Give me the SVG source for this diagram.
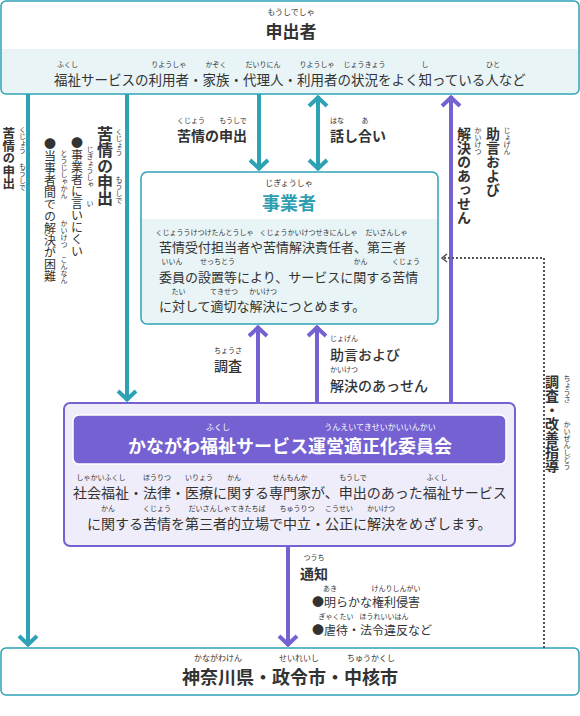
<svg xmlns="http://www.w3.org/2000/svg" width="580" height="716" viewBox="0 0 580 716">
<defs>
<style>
text{font-family:"Noto Sans CJK JP","Noto Sans CJK SC",sans-serif;fill:#333;}
.r{font-size:7px;text-anchor:middle;}
.rt{font-size:8px;text-anchor:middle;}
.b{font-weight:bold;}
.m{text-anchor:middle;}
.v{writing-mode:vertical-rl;}
.tl{stroke:#2ea2b5;stroke-width:4;fill:none;}
.pl{stroke:#7561d1;stroke-width:4;fill:none;}
</style>
<marker id="arT" markerUnits="userSpaceOnUse" markerWidth="24" markerHeight="24" viewBox="-12 -12 24 24" refX="0" refY="0" orient="auto-start-reverse" overflow="visible">
<path d="M-10,-9 L-1.5,0 L-10,9" fill="none" stroke="#2ea2b5" stroke-width="4"/>
</marker>
<marker id="arP" markerUnits="userSpaceOnUse" markerWidth="24" markerHeight="24" viewBox="-12 -12 24 24" refX="0" refY="0" orient="auto-start-reverse" overflow="visible">
<path d="M-10,-9 L-1.5,0 L-10,9" fill="none" stroke="#7561d1" stroke-width="4"/>
</marker>
<marker id="arD" markerUnits="userSpaceOnUse" markerWidth="12" markerHeight="12" viewBox="-6 -6 12 12" refX="0" refY="0" orient="auto" overflow="visible">
<path d="M-5,-4 L0,0 L-5,4" fill="none" stroke="#555" stroke-width="1.6"/>
</marker>
</defs>
<rect width="580" height="716" fill="#fff"/>

<g id="moushidesha">
<rect x="1" y="1" width="578" height="93" rx="5" fill="#fff"/>
<path d="M2,49 H578 V89 A4,4 0 0 1 574,93 H6 A4,4 0 0 1 2,89 Z" fill="#e8f4f6"/>
<rect x="1" y="1" width="578" height="93" rx="5" fill="none" stroke="#2ea2b5" stroke-width="1.5"/>
<text class="rt" x="291" y="15">もうしでしゃ</text>
<text class="m b" x="291" y="37.5" font-size="17">申出者</text>
<text x="54" y="84.5" font-size="13.5">福祉サービスの利用者・家族・代理人・利用者の状況をよく知っている人など</text>
<text class="r" x="67.5" y="66.5">ふくし</text>
<text class="r" x="168.8" y="66.5">りようしゃ</text>
<text class="r" x="216" y="66.5">かぞく</text>
<text class="r" x="263" y="66.5">だいりにん</text>
<text class="r" x="317" y="66.5">りようしゃ</text>
<text class="r" x="364.5" y="66.5">じょうきょう</text>
<text class="r" x="425" y="66.5">し</text>
<text class="r" x="493" y="66.5">ひと</text>
</g>

<g id="jigyousha">
<rect x="141" y="172" width="297" height="152" rx="6" fill="#fff"/>
<path d="M142,219 H437 V318 A5,5 0 0 1 432,323 H147 A5,5 0 0 1 142,318 Z" fill="#e8f4f6"/>
<rect x="141" y="172" width="297" height="152" rx="6" fill="none" stroke="#2ea2b5" stroke-width="1.5"/>
<text class="rt" x="289" y="186">じぎょうしゃ</text>
<text class="m b" x="289" y="209.5" font-size="18" style="fill:#2e9fb3">事業者</text>
<text x="159" y="252" font-size="13">苦情受付担当者や苦情解決責任者、第三者</text>
<text class="r" x="204.5" y="234.5">くじょううけつけたんとうしゃ</text>
<text class="r" x="308.5" y="234.5">くじょうかいけつせきにんしゃ</text>
<text class="r" x="386.5" y="234.5">だいさんしゃ</text>
<text x="159" y="281.5" font-size="13">委員の設置等により、サービスに関する苦情</text>
<text class="r" x="172" y="264">いいん</text>
<text class="r" x="217.5" y="264">せっちとう</text>
<text class="r" x="360.5" y="264">かん</text>
<text class="r" x="406" y="264">くじょう</text>
<text x="159" y="311" font-size="13">に対して適切な解決につとめます。</text>
<text class="r" x="178.5" y="293.5">たい</text>
<text class="r" x="224" y="293.5">てきせつ</text>
<text class="r" x="263" y="293.5">かいけつ</text>
</g>

<g id="iinkai">
<rect x="64" y="403" width="451" height="143" rx="6" fill="#efedf9" stroke="#7561d1" stroke-width="2"/>
<rect x="73" y="415" width="433" height="49" rx="6" fill="#7561d1" stroke="#fff" stroke-width="1.5"/>
<text class="rt" x="218" y="429.5" style="fill:#fff">ふくし</text>
<text class="rt" x="380" y="429.5" style="fill:#fff">うんえいてきせいかいいんかい</text>
<text class="m b" x="290" y="453" font-size="18" style="fill:#fff">かながわ福祉サービス運営適正化委員会</text>
<text x="73" y="498" font-size="14">社会福祉・法律・医療に関する専門家が、申出のあった福祉サービス</text>
<text class="r" x="101" y="479.5">しゃかいふくし</text>
<text class="r" x="157" y="479.5">ほうりつ</text>
<text class="r" x="199" y="479.5">いりょう</text>
<text class="r" x="234" y="479.5">かん</text>
<text class="r" x="290" y="479.5">せんもんか</text>
<text class="r" x="353" y="479.5">もうしで</text>
<text class="r" x="437" y="479.5">ふくし</text>
<text x="87" y="529" font-size="14">に関する苦情を第三者的立場で中立・公正に解決をめざします。</text>
<text class="r" x="108" y="510.5">かん</text>
<text class="r" x="157" y="510.5">くじょう</text>
<text class="r" x="227" y="510.5">だいさんしゃてきたちば</text>
<text class="r" x="297" y="510.5">ちゅうりつ</text>
<text class="r" x="339" y="510.5">こうせい</text>
<text class="r" x="381" y="510.5">かいけつ</text>
</g>

<g id="gyousei">
<rect x="1" y="648" width="578" height="47" rx="5" fill="#fff" stroke="#2ea2b5" stroke-width="1.5"/>
<text x="182" y="684" font-size="18" class="b">神奈川県・政令市・中核市</text>
<text class="rt" x="218" y="660.5">かながわけん</text>
<text class="rt" x="299" y="660.5">せいれいし</text>
<text class="rt" x="371" y="660.5">ちゅうかくし</text>
</g>

<g id="connectors">
<path class="tl" d="M28,94 V646" marker-end="url(#arT)"/>
<path class="tl" d="M127,94 V401" marker-end="url(#arT)"/>
<path class="tl" d="M259,94 V170" marker-end="url(#arT)"/>
<path class="tl" d="M318,96 V170" marker-start="url(#arT)" marker-end="url(#arT)"/>
<path class="pl" d="M451,403 V96" marker-end="url(#arP)"/>
<path class="pl" d="M258,403 V326" marker-end="url(#arP)"/>
<path class="pl" d="M317,403 V326" marker-end="url(#arP)"/>
<path class="pl" d="M288,546 V646" marker-end="url(#arP)"/>
<path d="M544,648 V258 H442" fill="none" stroke="#555" stroke-width="2" stroke-dasharray="2 2" marker-end="url(#arD)"/>

<text class="b" x="177" y="141" font-size="14">苦情の申出</text>
<text class="r" x="191" y="122.5">くじょう</text>
<text class="r" x="233" y="122.5">もうしで</text>
<text class="b" x="330" y="141" font-size="14">話し合い</text>
<text class="r" x="337" y="122.5">はな</text>
<text class="r" x="365" y="122.5">あ</text>

<text x="214" y="371" font-size="14" font-weight="500">調査</text>
<text class="r" x="228" y="352.5">ちょうさ</text>
<text x="330" y="359.5" font-size="14" font-weight="500">助言および</text>
<text class="r" x="344" y="341">じょげん</text>
<text x="330" y="390.5" font-size="14" font-weight="500">解決のあっせん</text>
<text class="r" x="344" y="372">かいけつ</text>

<text class="b" x="300" y="578.5" font-size="14">通知</text>
<text class="r" x="314" y="560">つうち</text>
<text x="312" y="607" font-size="12">●明らかな権利侵害</text>
<text class="r" x="330" y="591">あき</text>
<text class="r" x="396" y="591">けんりしんがい</text>
<text x="312" y="635" font-size="12">●虐待・法令違反など</text>
<text class="r" x="336" y="619">ぎゃくたい</text>
<text class="r" x="384" y="619">ほうれいいはん</text>

<text class="v b" x="8.8" y="127" font-size="12.5">苦情の申出</text>
<text class="v r" x="22.6" y="140">くじょう</text>
<text class="v r" x="22.6" y="177">もうしで</text>
<text class="v b" x="105" y="126" font-size="16">苦情の申出</text>
<text class="v r" x="119" y="142">くじょう</text>
<text class="v r" x="119" y="190">もうしで</text>
<text class="v" x="77" y="137" font-size="12">●事業者に言いにくい</text>
<text class="v r" x="90" y="167">じぎょうしゃ</text>
<text class="v r" x="90" y="203">い</text>
<text class="v" x="50" y="138" font-size="12">●当事者間での解決が困難</text>
<text class="v r" x="64" y="174">とうじしゃかん</text>
<text class="v r" x="64" y="234">かいけつ</text>
<text class="v r" x="64" y="270">こんなん</text>

<text class="v b" x="464" y="127" font-size="14">解決のあっせん</text>
<text class="v r" x="478" y="141">かいけつ</text>
<text class="v b" x="493" y="127" font-size="14">助言および</text>
<text class="v r" x="507" y="141">じょげん</text>

<text class="v b" x="552" y="375" font-size="14">調査・改善指導</text>
<text class="v r" x="567" y="389">ちょうさ</text>
<text class="v r" x="567" y="445">かいぜんしどう</text>
</g>
</svg>
